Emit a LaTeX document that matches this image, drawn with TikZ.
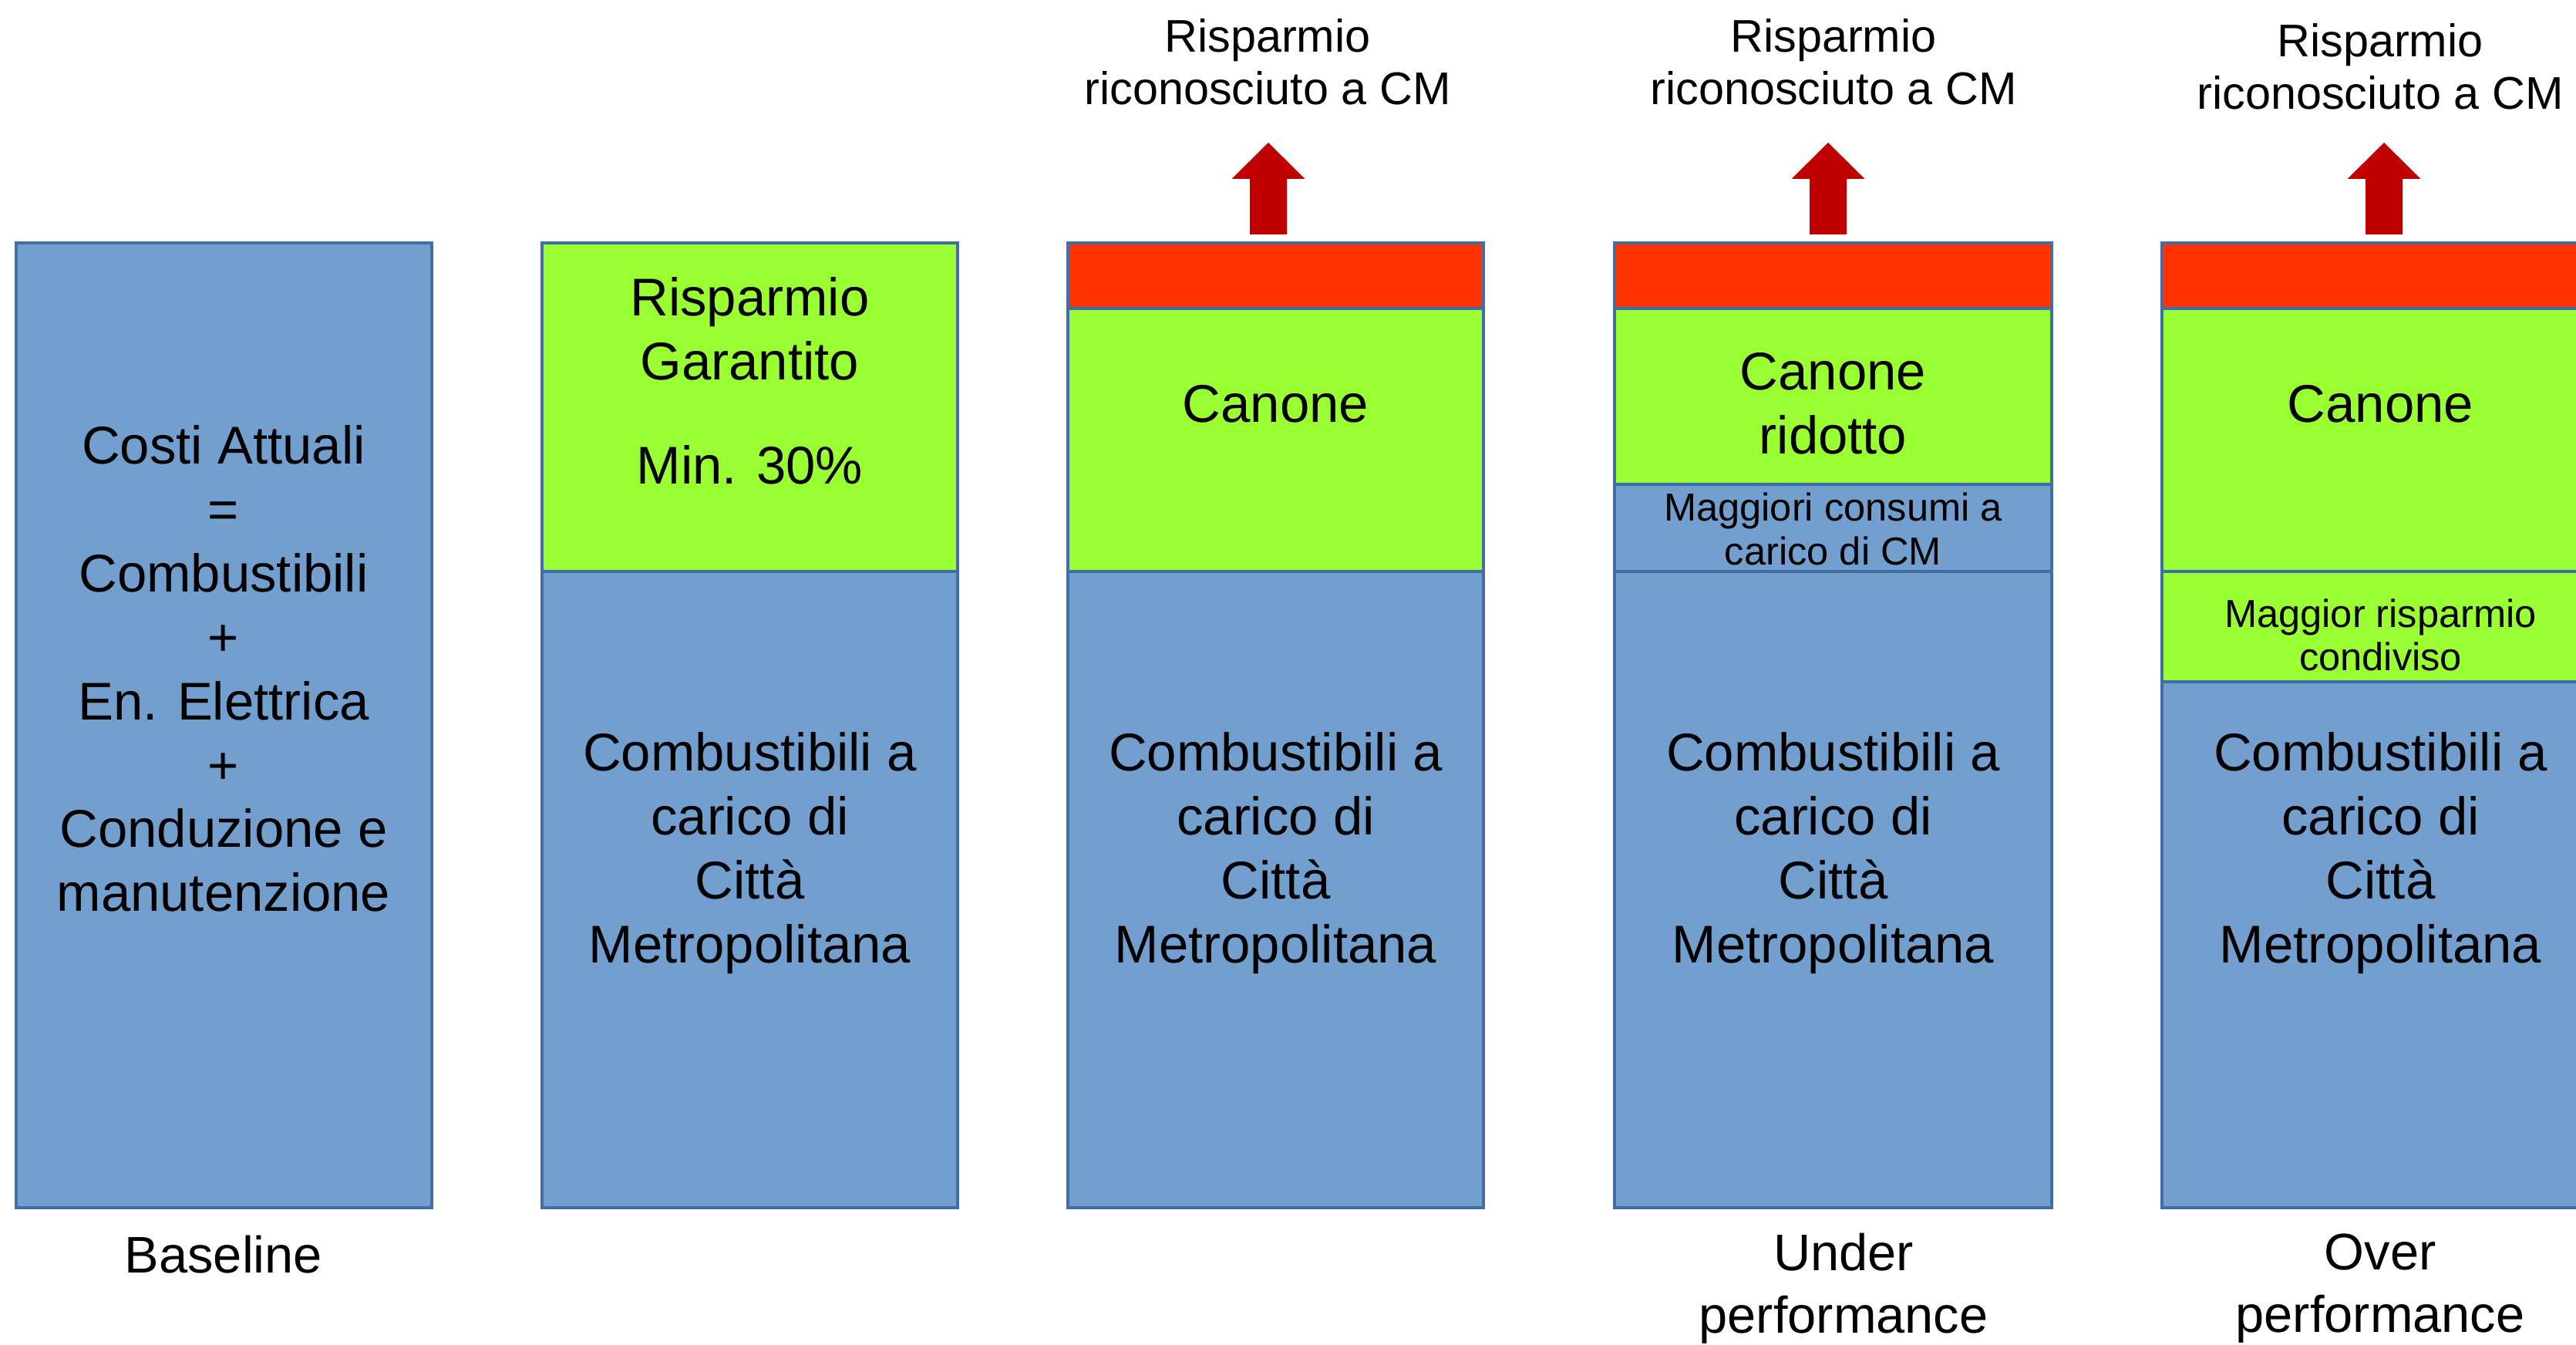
\documentclass[tikz,border=0pt]{standalone}
\usepackage{fontspec}
\setmainfont{Liberation Sans}
\usetikzlibrary{calc}

\definecolor{segblue}{RGB}{115,159,207}
\definecolor{segline}{RGB}{65,110,170}
\definecolor{seggreen}{RGB}{153,255,51}
\definecolor{segred}{RGB}{255,51,0}
\definecolor{arrowred}{RGB}{192,0,0}

\begin{document}
\begin{tikzpicture}[
    seg/.style={line width=0.9pt, draw=segline},
    bigtxt/.style={align=center, inner sep=0pt, font=\fontsize{19.6}{23.6}\selectfont},
    toptxt/.style={align=center, inner sep=0pt, font=\fontsize{16.9}{19.4}\selectfont},
    smalltxt/.style={align=center, inner sep=0pt, font=\fontsize{14.4}{16}\selectfont},
    bottxt/.style={align=center, inner sep=0pt, font=\fontsize{19}{23}\selectfont}]

    \useasboundingbox (0,0) rectangle (33.41,17.43);

                % Baseline
                \begin{scope}[xshift=0.21cm]
                    \filldraw[seg, fill=segblue] (0,1.77) rectangle (5.39,14.28);
                    \node[bigtxt] (costi) at (2.69,8.76) {Costi Attuali\\=\\Combustibili\\+\\En. Elettrica\\+\\Conduzione e\\manutenzione};
                    \node[bottxt] (baseline) at (2.69,1.16) {Baseline};
                \end{scope}

                % risparmio garantito
                \begin{scope}[xshift=7.03cm]
                    \filldraw[seg, fill=seggreen] (0,10.02) rectangle (5.39,14.28);
                    \filldraw[seg, fill=segblue] (0,1.77) rectangle (5.39,10.02);
                    \node[bigtxt] (garantito) at (2.695,13.17) {Risparmio\\Garantito};
                    \node[bigtxt] (minimo) at (2.695,11.40) {Min. 30\%};
                    \node[bigtxt] (combA) at (2.695,6.37) {Combustibili a\\carico di\\Città\\Metropolitana};
                \end{scope}

                % canone
                \begin{scope}[xshift=13.85cm]
                    \filldraw[seg, fill=segred] (0,13.43) rectangle (5.39,14.28);
                    \filldraw[seg, fill=seggreen] (0,10.02) rectangle (5.39,13.43);
                    \filldraw[seg, fill=segblue] (0,1.77) rectangle (5.39,10.02);
                    \node[bigtxt] (canoneA) at (2.695,12.19) {Canone};
                    \node[bigtxt] (combB) at (2.695,6.37) {Combustibili a\\carico di\\Città\\Metropolitana};
                    \node[toptxt] (rispA) at (2.59,16.63) {Risparmio\\riconosciuto a CM};
                    \fill[arrowred] (2.60,14.39) ++(-0.24,0) -- ++(0,0.72) -- ++(-0.235,0) -- ++(0.475,0.47) -- ++(0.475,-0.47) -- ++(-0.235,0) -- ++(0,-0.72) -- cycle;
                \end{scope}

                % under performance
                \begin{scope}[xshift=20.94cm]
                    \filldraw[seg, fill=segred] (0,13.43) rectangle (5.67,14.28);
                    \filldraw[seg, fill=seggreen] (0,11.15) rectangle (5.67,13.43);
                    \filldraw[seg, fill=segblue] (0,10.02) rectangle (5.67,11.15);
                    \filldraw[seg, fill=segblue] (0,1.77) rectangle (5.67,10.02);
                    \node[bigtxt] (ridotto) at (2.835,12.20) {Canone\\ridotto};
                    \node[smalltxt] (consumi) at (2.835,10.57) {Maggiori consumi a\\carico di CM};
                    \node[bigtxt] (combC) at (2.835,6.37) {Combustibili a\\carico di\\Città\\Metropolitana};
                    \node[toptxt] (rispB) at (2.84,16.63) {Risparmio\\riconosciuto a CM};
                    \fill[arrowred] (2.77,14.39) ++(-0.24,0) -- ++(0,0.72) -- ++(-0.235,0) -- ++(0.475,0.47) -- ++(0.475,-0.47) -- ++(-0.235,0) -- ++(0,-0.72) -- cycle;
                    \node[bottxt] (under) at (2.97,0.72) {Under\\performance};
                \end{scope}

                % over performance
                \begin{scope}[xshift=28.04cm]
                    \filldraw[seg, fill=segred] (0,13.43) rectangle (5.67,14.28);
                    \filldraw[seg, fill=seggreen] (0,10.02) rectangle (5.67,13.43);
                    \filldraw[seg, fill=seggreen] (0,8.59) rectangle (5.67,10.02);
                    \filldraw[seg, fill=segblue] (0,1.77) rectangle (5.67,8.59);
                    \node[bigtxt] (canoneB) at (2.835,12.19) {Canone};
                    \node[smalltxt] (condiviso) at (2.835,9.195) {Maggior risparmio\\condiviso};
                    \node[bigtxt] (combD) at (2.835,6.37) {Combustibili a\\carico di\\Città\\Metropolitana};
                    \node[toptxt] (rispC) at (2.83,16.57) {Risparmio\\riconosciuto a CM};
                    \fill[arrowred] (2.88,14.39) ++(-0.24,0) -- ++(0,0.72) -- ++(-0.235,0) -- ++(0.475,0.47) -- ++(0.475,-0.47) -- ++(-0.235,0) -- ++(0,-0.72) -- cycle;
                    \node[bottxt] (over) at (2.83,0.72) {Over\\performance};
                \end{scope}

\end{tikzpicture}
\end{document}
